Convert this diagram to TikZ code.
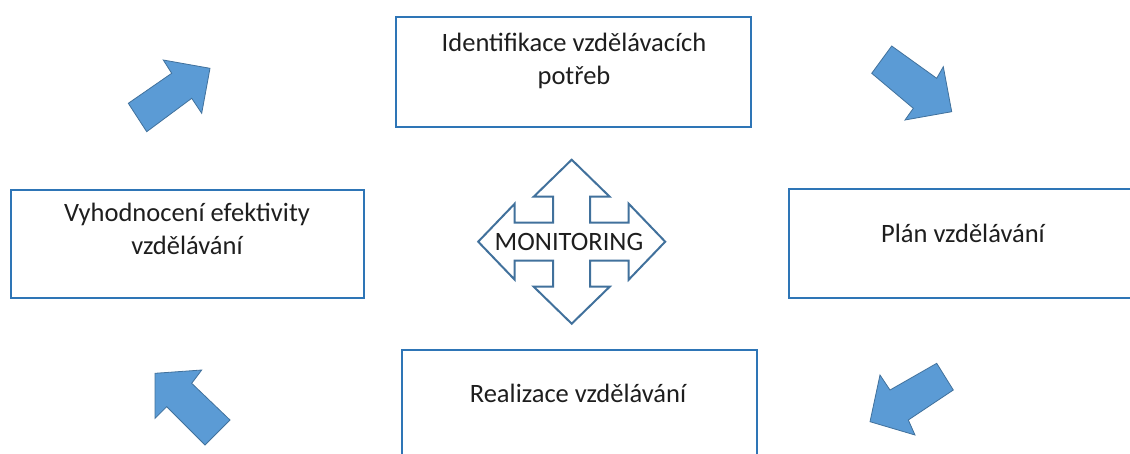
\documentclass[tikz,border=0pt]{standalone}
\usepackage{fontspec}
\setmainfont{Carlito}
\definecolor{boxline}{RGB}{46,117,182}
\definecolor{arrowfill}{RGB}{91,155,213}
\definecolor{arrowline}{RGB}{65,113,156}
\definecolor{textcol}{RGB}{30,30,30}
\tikzset{
  stagebox/.style={draw=boxline, line width=2.4pt, fill=white, inner sep=0pt},
  stagetext/.style={text=textcol, font=\fontsize{26.5}{32.5}\selectfont, align=center, inner sep=0pt},
  fatarrow/.style={fill=arrowfill, draw=arrowline, line width=0.8pt, line join=miter},
  crossarrow/.style={fill=white, draw=arrowline, line width=2pt, line join=miter}
}
\begin{document}
\begin{tikzpicture}[x=1pt,y=-1pt]
\useasboundingbox (0,0) rectangle (1130,453);
\clip (0,0) rectangle (1130,453);

% stage boxes
\node[stagebox, minimum width=355pt, minimum height=110pt] (need) at (573.5,72) {};
\node[stagebox, minimum width=351pt, minimum height=109pt] (plan) at (964.5,243.5) {};
\node[stagebox, minimum width=355pt, minimum height=110pt] (real) at (579.5,405) {};
\node[stagebox, minimum width=353pt, minimum height=108pt] (eval) at (187.5,244) {};

\node[stagetext] (needtext) at (574,61) {Identifikace vzdělávacích\\potřeb};
\node[stagetext] (plantext) at (963,233) {Plán vzdělávání};
\node[stagetext] (realtext) at (578,393) {Realizace vzdělávání};
\node[stagetext] (evaltext) at (187,229) {Vyhodnocení efektivity\\vzdělávání};

% block arrows between the stages
\draw[fatarrow] (146.7,131.7) -- (128.3,103.3) -- (171.7,73.3) -- (163.3,60) -- (210,68.3)
  -- (201.7,113.3) -- (191.7,98.3) -- cycle;
\draw[fatarrow] (891.7,46) -- (871.7,73.3) -- (913.3,108.3) -- (905,120) -- (951.7,111.7)
  -- (943.3,66.7) -- (936.7,78.3) -- cycle;
\draw[fatarrow] (936.7,363.3) -- (953.3,390) -- (908.3,420) -- (915,435) -- (870,421.7)
  -- (880,375) -- (890,390) -- cycle;
\draw[fatarrow] (230,420) -- (205,445) -- (166.7,406.7) -- (155,418.3) -- (155,373.3)
  -- (201.7,370) -- (191.7,383.3) -- cycle;

% four-way monitoring arrow
\coordinate (mc) at (571.7,241.7);
\draw[crossarrow, shift={(mc)}]
  (0,-82) -- (38,-45) -- (18.5,-45) -- (18.5,-19) -- (57,-19) -- (57,-38) -- (93.5,0)
  -- (57,38) -- (57,19) -- (18.5,19) -- (18.5,45) -- (38,45) -- (0,82)
  -- (-38,45) -- (-18.5,45) -- (-18.5,19) -- (-57,19) -- (-57,38) -- (-93.5,0)
  -- (-57,-38) -- (-57,-19) -- (-18.5,-19) -- (-18.5,-45) -- (-38,-45) -- cycle;
\node[stagetext] (mon) at (569,242) {MONITORING};
\end{tikzpicture}
\end{document}
